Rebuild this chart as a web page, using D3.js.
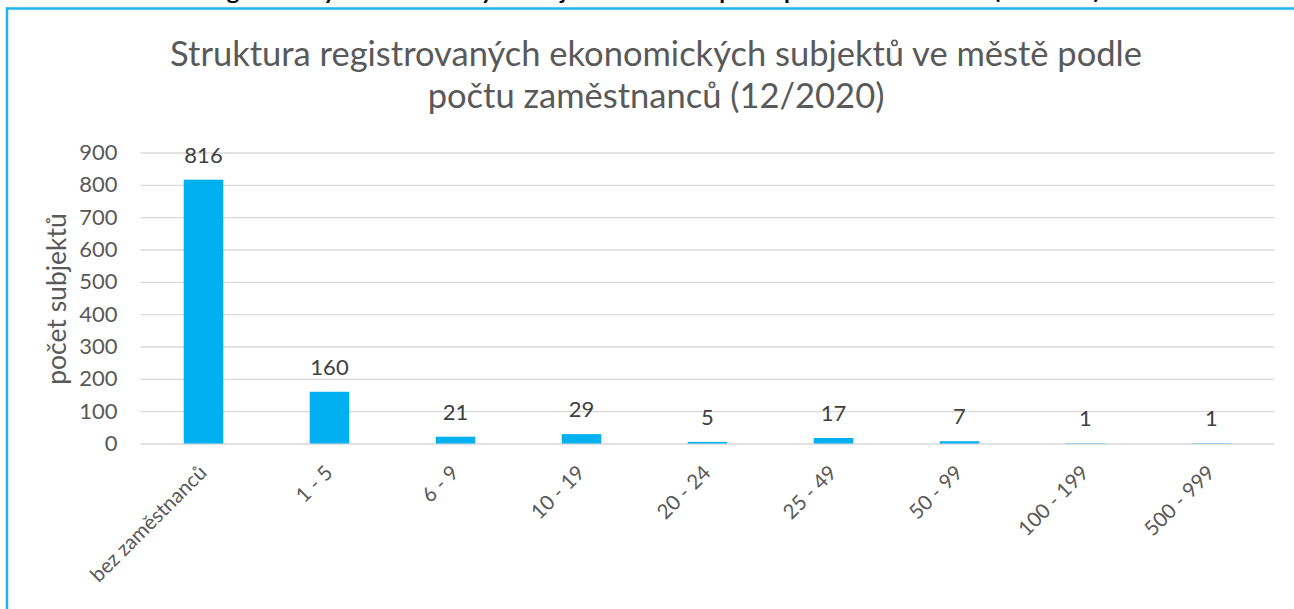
<!DOCTYPE html>
<html>
<head>
<meta charset="utf-8">
<script src="https://cdn.jsdelivr.net/npm/d3@7"></script>
<style>
  body { margin: 0; background: #fff; }
  svg { display: block; font-family: Lato, "Open Sans", sans-serif; }
</style>
</head>
<body>
<div id="chart"></div>
<script>

var categories = ['bez zaměstnanců', '1 - 5', '6 - 9', '10 - 19', '20 - 24', '25 - 49', '50 - 99', '100 - 199', '500 - 999']
var counts = [816, 160, 21, 29, 5, 17, 7, 1, 1]
var yTicks = [0, 100, 200, 300, 400, 500, 600, 700, 800, 900]

var titleLines = ['Struktura registrovaných ekonomických subjektů ve městě podle', 'počtu zaměstnanců (12/2020)']
var headingText = 'Struktura registrovaných ekonomických subjektů ve městě podle počtu zaměstnanců (12/2020)'
var yTitle = 'počet subjektů'

var barColor = '#00B0F0'
var frameColor = '#1CB5EE'

var width = 1294,
    height = 609;

var plot = {left: 140.5, right: 1274.5, top: 152.5, bottom: 443.5};

var svg = d3.select("#chart").append("svg")
  .attr("width", width)
  .attr("height", height);

// heading of the page above, only its lower part is visible
svg.append("text")
  .attr("x", 101)
  .attr("y", -1)
  .attr("textLength", 999)
  .attr("lengthAdjust", "spacingAndGlyphs")
  .style("font-size", "21px")
  .style("font-weight", "bold")
  .style("fill", "#000")
  .text(headingText);

// blue frame
svg.append("line")
  .attr("x1", 6).attr("x2", width)
  .attr("y1", 8.5).attr("y2", 8.5)
  .style("stroke", frameColor)
  .style("stroke-width", 2.5);

svg.append("line")
  .attr("x1", 7).attr("x2", 7)
  .attr("y1", 7.5).attr("y2", height)
  .style("stroke", frameColor)
  .style("stroke-width", 2.5);

// title
svg.append("text")
  .attr("text-anchor", "middle")
  .style("font-size", "34.5px")
  .style("fill", "#595959")
  .selectAll("tspan")
  .data(titleLines)
  .enter().append("tspan")
    .attr("x", 656)
    .attr("y", function(d, i) { return 66 + i * 42; })
    .text(function(d) { return d; });

var xScale = d3.scaleBand()
  .domain(categories)
  .range([plot.left, plot.right])
  .paddingInner(0.686)
  .paddingOuter(0.343);

var yScale = d3.scaleLinear()
  .domain([0, 900])
  .range([plot.bottom, plot.top]);

var yAxis = d3.axisLeft(yScale)
  .tickValues(yTicks)
  .tickSize(-(plot.right - plot.left))
  .tickPadding(23);

var gy = svg.append("g")
  .attr("class", "y axis")
  .attr("transform", "translate(" + plot.left + ",0)")
  .call(yAxis);

gy.select(".domain").remove();
gy.selectAll(".tick line")
  .style("stroke", "#D9D9D9")
  .style("stroke-width", 1.3);
gy.selectAll(".tick text")
  .style("font-family", "Lato, sans-serif")
  .style("font-size", "22px")
  .style("fill", "#595959");

svg.append("text")
  .attr("transform", "translate(66,299) rotate(-90)")
  .attr("text-anchor", "middle")
  .style("font-size", "26.5px")
  .style("fill", "#595959")
  .text(yTitle);

var data = categories.map(function(c, i) { return {cat: c, value: counts[i]}; });

svg.selectAll(".bar")
    .data(data)
  .enter().append("rect")
    .attr("class", "bar")
    .attr("x", function(d) { return xScale(d.cat); })
    .attr("width", xScale.bandwidth())
    .attr("y", function(d) { return yScale(d.value); })
    .attr("height", function(d) { return plot.bottom - yScale(d.value); })
    .style("fill", barColor);

svg.selectAll(".value")
    .data(data)
  .enter().append("text")
    .attr("class", "value")
    .attr("x", function(d) { return xScale(d.cat) + xScale.bandwidth() / 2; })
    .attr("y", function(d) { return yScale(d.value) - 17; })
    .attr("text-anchor", "middle")
    .style("font-size", "22px")
    .style("fill", "#404040")
    .text(function(d) { return d.value; });

// rotated category labels
svg.selectAll(".xlabel")
    .data(categories)
  .enter().append("text")
    .attr("class", "xlabel")
    .attr("transform", function(d) {
      var cx = xScale(d) + xScale.bandwidth() / 2 + 4.5;
      return "translate(" + cx + ",474) rotate(-45)";
    })
    .attr("text-anchor", "end")
    .style("font-size", "20.5px")
    .style("fill", "#595959")
    .text(function(d) { return d; });

</script>
</body>
</html>
